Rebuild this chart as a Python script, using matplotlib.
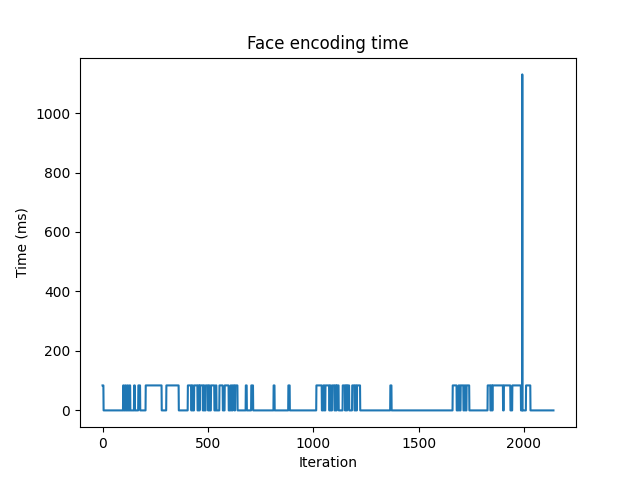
import numpy as np
import matplotlib
matplotlib.use("Agg")
import matplotlib.pyplot as plt

# number of iterations recorded
n_iter = 2141

# iterations where a face was encoded (start, end) and the time it took
on_starts = [0, 98, 108, 118, 128, 150, 170, 205, 303, 358, 405, 425, 435, 455, 462, 480,
             490, 505, 515, 537, 555, 580, 608, 618, 630, 680, 706, 812, 882,
             1015, 1048, 1058, 1080, 1090, 1105, 1112, 1140, 1155, 1162, 1185, 1200, 1208,
             1366, 1662, 1690, 1700, 1718, 1728, 1828, 1845, 1852, 1905, 1945, 2010]
on_ends = [4, 101, 111, 121, 131, 153, 178, 280, 358, 361, 420, 428, 450, 458, 475, 483,
           500, 508, 530, 540, 570, 598, 612, 625, 640, 684, 714, 816, 888,
           1040, 1052, 1075, 1083, 1100, 1108, 1120, 1150, 1158, 1170, 1195, 1203, 1222,
           1371, 1680, 1694, 1712, 1722, 1740, 1840, 1848, 1900, 1935, 1985, 2030]
on_time = 84

# the one big outlier
spike_iter = 1992
spike_time = 1130

times = np.zeros(n_iter)
for s, e in zip(on_starts, on_ends):
    times[s:e + 1] = on_time
times[spike_iter] = spike_time

fig = plt.figure(figsize=(6.4, 4.8), dpi=100)
plt.plot(np.arange(n_iter), times)
plt.title("Face encoding time")
plt.xlabel("Iteration")
plt.ylabel("Time (ms)")
plt.savefig("out.png")
